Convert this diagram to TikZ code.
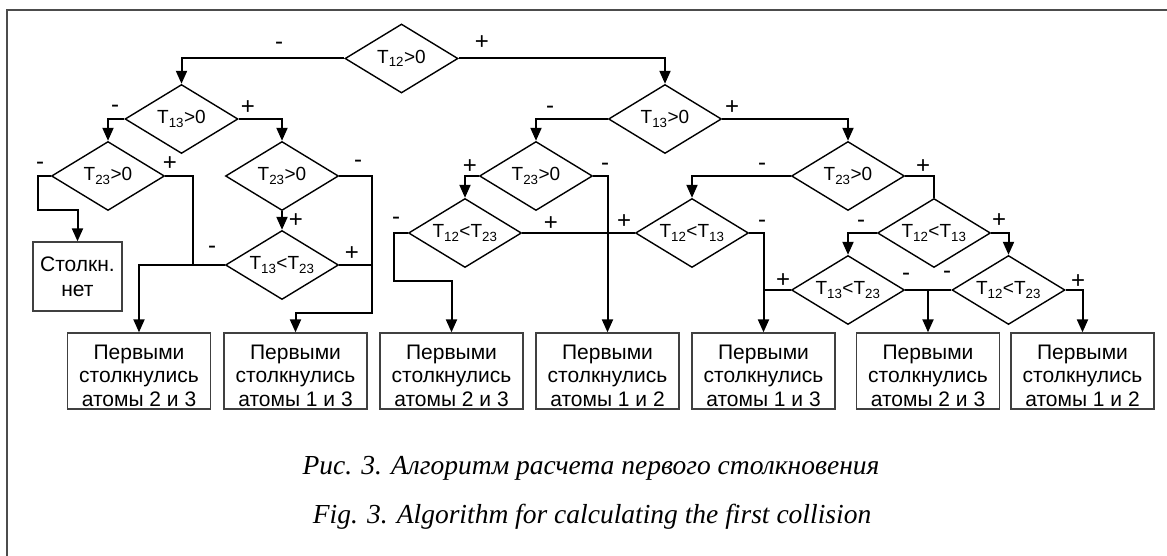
\documentclass[tikz,border=0pt]{standalone}
\usepackage{fontspec}
\setmainfont{Liberation Sans}
\newfontfamily\capfont{Liberation Serif}
\usetikzlibrary{shapes.geometric,arrows.meta,calc}
\newcommand{\restext}[3]{\raisebox{-7pt}[\height][\depth]{\begin{tabular}{@{}c@{}}#1\\#2\\#3\end{tabular}}}
\begin{document}
\begin{tikzpicture}[x=1pt,y=-1pt,
  dia/.style={draw, shape=diamond, line width=1.4pt, minimum width=113pt, minimum height=69pt,
    inner sep=0pt, shape aspect=1.66, font=\fontsize{19}{21}\selectfont},
  res/.style={draw=black!75, line width=1.3pt, minimum width=143pt, minimum height=76pt,
    inner sep=0pt, align=center, font=\fontsize{21}{23.5}\selectfont},
  con/.style={line width=2pt},
  arr/.style={con, -{Triangle[length=13pt,width=11pt]}},
  lab/.style={font=\fontsize{24}{24}\selectfont, inner sep=0pt},
  captext/.style={font=\capfont\itshape\fontsize{27.5}{30}\selectfont, inner sep=0pt, anchor=base}
]
\useasboundingbox (0,0) rectangle (1167,556);
\draw[line width=2pt, black!70] (7,556) -- (7,10) -- (1167,10);

% decisions
\node[dia] (d1) at (401.5,58.5) {T\textsubscript{12}>0};
\node[dia] (d2) at (181.5,119) {T\textsubscript{13}>0};
\node[dia] (d3) at (665,119) {T\textsubscript{13}>0};
\node[dia] (d4) at (108,176) {T\textsubscript{23}>0};
\node[dia] (d5) at (282,176) {T\textsubscript{23}>0};
\node[dia] (d6) at (282,265) {T\textsubscript{13}<T\textsubscript{23}};
\node[dia] (d7) at (536,176) {T\textsubscript{23}>0};
\node[dia] (d8) at (465,233) {T\textsubscript{12}<T\textsubscript{23}};
\node[dia] (d9) at (692,233) {T\textsubscript{12}<T\textsubscript{13}};
\node[dia] (d10) at (848,176) {T\textsubscript{23}>0};
\node[dia] (d11) at (934,233) {T\textsubscript{12}<T\textsubscript{13}};
\node[dia] (d12) at (848,290) {T\textsubscript{13}<T\textsubscript{23}};
\node[dia] (d13) at (1008.5,290) {T\textsubscript{12}<T\textsubscript{23}};

% results
\node[res, minimum width=89pt, minimum height=69pt, font=\fontsize{21}{25}\selectfont] (b0) at (77.5,276.5) {Столкн.\\нет};
\node[res] (b1) at (139,371) {\restext{Первыми}{столкнулись}{атомы 2 и 3}};
\node[res] (b2) at (295.5,371) {\restext{Первыми}{столкнулись}{атомы 1 и 3}};
\node[res] (b3) at (451.5,371) {\restext{Первыми}{столкнулись}{атомы 2 и 3}};
\node[res] (b4) at (607.5,371) {\restext{Первыми}{столкнулись}{атомы 1 и 2}};
\node[res] (b5) at (763.5,371) {\restext{Первыми}{столкнулись}{атомы 1 и 3}};
\node[res] (b6) at (928,371) {\restext{Первыми}{столкнулись}{атомы 2 и 3}};
\node[res] (b7) at (1082.5,371) {\restext{Первыми}{столкнулись}{атомы 1 и 2}};

% bend points
\coordinate (c5) at (38,210);
\coordinate (j1) at (193,265);
\coordinate (c7) at (372,313);
\coordinate (c15) at (394,281);

% connectors
\draw[arr] (d1.west) -| (d2.north);
\draw[arr] (d1.east) -| (d3.north);
\draw[arr] (d2.west) -| (d4.north);
\draw[arr] (d2.east) -| (d5.north);
\draw[arr] (d4.west) -| (c5) -| (b0.north);
\draw[con] (d4.east) -| (j1);
\draw[arr] (d5.east) -| (c7) -| (b2.north);
\draw[arr] (d5.south) -- (d6.north);
\draw[arr] (d6.west) -| (b1.north);
\draw[con] (d6.east) -- (c7 |- d6.east);
\draw[arr] (d3.west) -| (d7.north);
\draw[arr] (d3.east) -| (d10.north);
\draw[arr] (d7.west) -| (d8.north);
\draw[arr] (d7.east) -| (b4.north);
\draw[arr] (d8.west) -| (c15) -| (b3.north);
\draw[con] (d8.east) -- (d9.west);
\draw[arr] (d9.east) -| (b5.north);
\draw[arr] (d10.west) -| (d9.north);
\draw[con] (d10.east) -| (d11.north);
\draw[arr] (d11.west) -| (d12.north);
\draw[arr] (d11.east) -| (d13.north);
\draw[con] (d12.west) -- (b5.north |- d12.west);
\draw[con] (d12.east) -- (d13.west);
\draw[arr] (b6.north |- d12.east) -- (b6.north);
\draw[arr] (d13.east) -| (b7.north);

% branch labels
\node[lab] (l1) at (279,46) {-};
\node[lab] (l2) at (482,43) {+};
\node[lab] (l3) at (115,109) {-};
\node[lab] (l4) at (248,108) {+};
\node[lab] (l5) at (40,166) {-};
\node[lab] (l6) at (170,164) {+};
\node[lab] (l7) at (358,164) {-};
\node[lab] (l8) at (296,221) {+};
\node[lab] (l9) at (212,250) {-};
\node[lab] (l10) at (352,254) {+};
\node[lab] (l11) at (550,110) {-};
\node[lab] (l12) at (732,108) {+};
\node[lab] (l13) at (470,167) {+};
\node[lab] (l14) at (605,167) {-};
\node[lab] (l15) at (396,221) {-};
\node[lab] (l16) at (551,224) {+};
\node[lab] (l17) at (624,222) {+};
\node[lab] (l18) at (762,224) {-};
\node[lab] (l19) at (762,167) {-};
\node[lab] (l20) at (923,167) {+};
\node[lab] (l21) at (861,224) {-};
\node[lab] (l22) at (999,221) {+};
\node[lab] (l23) at (783,281) {+};
\node[lab] (l24) at (906,277) {-};
\node[lab] (l25) at (947,275) {-};
\node[lab] (l26) at (1078,282) {+};

% captions
\node[captext] (t1) at (591,474) {Рис. 3. Алгоритм расчета первого столкновения};
\node[captext] (t2) at (592,523) {Fig. 3. Algorithm for calculating the first collision};
\end{tikzpicture}
\end{document}
